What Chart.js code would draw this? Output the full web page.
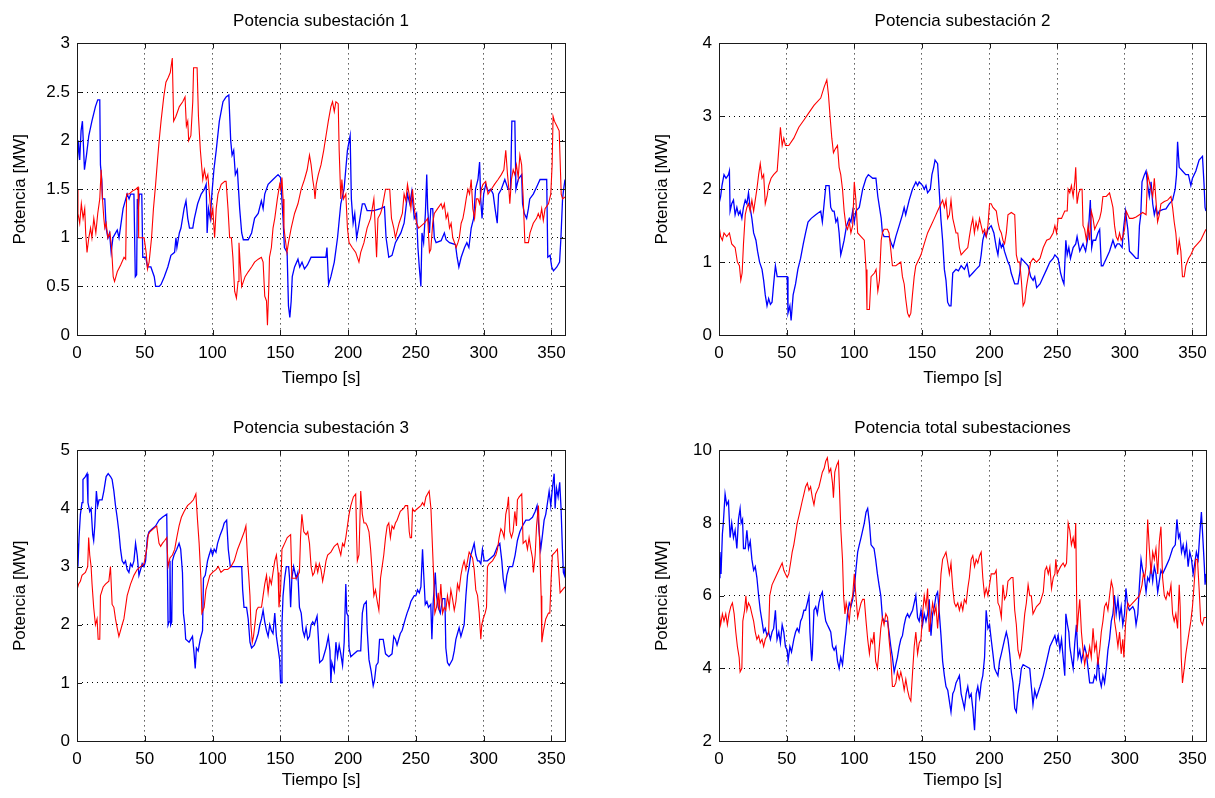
<!DOCTYPE html>
<html><head><meta charset="utf-8">
<script src="https://cdn.jsdelivr.net/npm/chart.js@4.4.1/dist/chart.umd.min.js"></script>
<style>
html,body{margin:0;padding:0;background:#fff;overflow:hidden;width:1215px;height:798px}
canvas{position:absolute}
</style></head><body>
<canvas id="c1"></canvas><canvas id="c2"></canvas><canvas id="c3"></canvas><canvas id="c4"></canvas>
<script>
const titles = ["Potencia subestación 1","Potencia subestación 2","Potencia subestación 3","Potencia total subestaciones"];
const xLabel = "Tiempo [s]";
const yLabel = "Potencia [MW]";
const xTicks = [0,50,100,150,200,250,300,350];
const yTicks1 = [0,0.5,1,1.5,2,2.5,3];
const yTicks2 = [0,1,2,3,4];
const yTicks3 = [0,1,2,3,4,5];
const yTicks4 = [2,4,6,8,10];

// [time (s), power (MW)]
const p1Blue = [[0,1.7],[1,2.0],[2,1.8],[3,2.1],[4,2.2],[5.5,1.7],[7,1.85],[8.7,2.05],[11,2.2],[13.6,2.35],[15.3,2.42],[16.8,2.42],[17.3,1.75],[18.3,1.6],[18.8,1.4],[20.5,1.4],[21.5,1.1],[22.8,1.0],[24,1.05],[25.2,0.85],[26.5,1.0],[28.5,1.05],[29.7,1.08],[31,1.0],[32,1.1],[34,1.3],[36,1.4],[37,1.45],[38.4,1.4],[39.6,1.45],[42,1.45],[43,0.6],[44,0.62],[44.5,1.4],[45.2,1.3],[46,1.45],[47.8,1.45],[48.5,0.8],[50.7,0.8],[52,0.7],[54.5,0.7],[57,0.6],[58,0.5],[60.6,0.5],[62,0.52],[64.4,0.6],[67,0.7],[69.3,0.82],[72,0.85],[73,1.0],[73.7,0.9],[75.5,1.05],[76.7,1.1],[79,1.3],[80.4,1.38],[81.7,1.2],[83,1.1],[85.4,1.1],[86.6,1.2],[89,1.35],[91.6,1.45],[94,1.5],[95.3,1.55],[96,1.05],[97,1.3],[98.3,1.2],[99.5,1.45],[101,1.7],[102.7,1.9],[105,2.2],[107.7,2.4],[110,2.45],[112,2.47],[113.4,2.0],[114.4,1.85],[115.6,1.9],[116.8,1.65],[118.3,1.7],[120,1.3],[121.5,1.05],[122.7,0.98],[126.3,0.98],[128.8,1.05],[131,1.2],[133.7,1.25],[136,1.38],[137.3,1.3],[138.5,1.45],[141,1.55],[144.6,1.6],[148.3,1.65],[150.2,1.62],[150.7,1.5],[152,1.2],[153,0.9],[155,0.85],[156,0.3],[157,0.18],[158,0.35],[158.8,0.6],[160.5,0.7],[163,0.78],[164.3,0.7],[166,0.75],[167.8,0.68],[170,0.72],[172.7,0.8],[177.6,0.8],[183.6,0.8],[184.4,0.9],[185.6,0.52],[187.3,0.6],[189.8,0.75],[192.2,1.0],[194.6,1.35],[197,1.5],[199.5,1.9],[201.5,2.05],[202.4,1.4],[203.7,1.15],[204.9,1.25],[206.3,1.0],[207.6,1.1],[209.3,1.25],[210.5,1.35],[212.2,1.35],[214,1.28],[219,1.28],[223.9,1.3],[226.8,1.32],[228,1.0],[230,0.8],[232.4,0.82],[234.9,0.95],[238.9,1.05],[241.3,1.15],[242.6,1.3],[243.8,1.45],[245.5,1.35],[247,1.48],[248.8,1.2],[250.5,1.25],[251.5,0.9],[252.5,0.7],[253.7,0.5],[254.5,1.05],[255.7,0.95],[257,1.25],[258,1.65],[258.7,1.3],[260,1.05],[261,1.3],[262.4,1.3],[263.6,1.0],[264.9,0.95],[268.6,0.97],[271,1.05],[272.3,0.98],[274.8,0.95],[279.2,0.93],[280.4,0.8],[281.7,0.7],[283.4,0.8],[285.9,0.9],[287.6,0.95],[289.1,0.9],[290.8,1.1],[292.6,1.2],[294,1.5],[295.8,1.6],[297,1.78],[297.8,1.4],[298.8,1.2],[300,1.45],[301.5,1.55],[303.2,1.48],[305.2,1.5],[307,1.45],[308.4,1.3],[310,1.15],[311,1.45],[313,1.5],[315.6,1.6],[318,1.5],[319.8,1.5],[320.8,2.2],[323,2.2],[323.8,1.5],[325.5,1.6],[328,1.65],[328.7,1.35],[330,1.25],[331.7,1.2],[333,1.3],[334,1.4],[336.6,1.45],[339,1.52],[341.6,1.6],[346.5,1.6],[347.3,0.8],[349,0.82],[350.2,0.7],[351.5,0.66],[354,0.7],[356,0.75],[357,1.0],[358.2,1.4],[359,1.5],[360,1.6]];
const p1Red = [[0,1.5],[0.7,1.25],[2,1.15],[3.2,1.35],[4.5,1.2],[5.7,1.3],[6.4,1.05],[7.4,0.85],[8.7,1.0],[10,1.1],[11,1.0],[12.4,1.2],[13.9,1.05],[15.3,1.25],[16.8,1.4],[17.8,1.7],[18.8,1.4],[19.8,1.2],[20.5,1.1],[21.5,1.15],[22.8,1.0],[24.3,1.05],[25.5,0.9],[26.7,0.6],[27.7,0.55],[29.7,0.65],[32.2,0.72],[34.7,0.8],[35.9,0.78],[36.6,1.45],[38.4,1.45],[40.8,1.48],[43.3,1.5],[45,1.52],[45.5,1.0],[47,1.0],[49.5,1.0],[51,0.85],[52,0.68],[53.2,0.75],[55,1.0],[56.4,1.3],[58,1.55],[59.4,1.8],[60.6,2.0],[62,2.2],[64,2.45],[65.6,2.6],[67.3,2.65],[68.8,2.7],[70.3,2.85],[71.3,2.2],[73,2.25],[75.5,2.35],[78,2.4],[79.7,2.45],[80.7,2.15],[81.7,2.2],[82.4,2.0],[84,2.05],[85.4,2.4],[86,2.75],[88.6,2.75],[89.6,2.25],[91,1.9],[92.8,1.6],[94,1.7],[95.3,1.6],[96.5,1.65],[98,1.4],[99,1.2],[100.2,1.3],[101.5,1.0],[102.7,1.3],[104,1.45],[106.4,1.55],[109,1.58],[110,1.58],[111.4,1.3],[112.6,1.0],[113.9,1.0],[115,0.8],[116.3,0.45],[117.6,0.38],[118.8,0.55],[119.5,0.95],[120.3,0.75],[121.5,0.5],[124,0.6],[126.3,0.65],[128.8,0.7],[131,0.75],[133.7,0.78],[136,0.8],[137.3,0.75],[138.5,0.4],[139.8,0.35],[140.5,0.1],[141.5,0.5],[142,0.8],[143.4,0.9],[144.6,1.1],[145.9,1.2],[147.8,1.4],[149.5,1.55],[150.2,1.5],[151.2,1.62],[152,1.4],[152.7,1.1],[153.7,0.98],[154.9,0.85],[156,0.95],[158,1.1],[160.5,1.25],[163,1.35],[165.4,1.5],[167.8,1.6],[169.8,1.7],[171.5,1.85],[172.7,1.75],[173.9,1.6],[175,1.5],[175.6,1.4],[176.5,1.55],[178,1.65],[180,1.75],[182,1.9],[183.7,2.05],[185.4,2.2],[187.3,2.35],[188.5,2.4],[189.8,2.3],[191,2.4],[192.7,2.38],[193.4,1.9],[194.6,1.4],[195.4,1.6],[196.6,1.4],[198.3,1.45],[199.5,1.1],[200.7,0.95],[203,0.9],[205.6,0.85],[208,0.75],[209.3,0.85],[211.7,0.95],[214,1.1],[216.6,1.2],[219,1.4],[220.2,1.05],[221,0.8],[222,1.2],[223.9,1.25],[225,1.3],[226.3,1.4],[227.6,1.5],[230.7,1.5],[232,1.2],[233.7,1.1],[234.9,1.0],[237.6,1.15],[240,1.25],[241.3,1.45],[242.6,1.38],[243.8,1.55],[245,1.45],[246.3,1.3],[247.5,1.5],[248.8,1.3],[250.5,1.15],[252,1.1],[253.7,1.12],[256.2,1.15],[258.7,1.2],[260,0.85],[261,0.88],[262.4,1.15],[263.6,1.25],[266,1.3],[268.6,1.35],[269.8,1.3],[271,1.35],[272.3,1.2],[273.5,1.25],[274.8,1.1],[276,1.15],[277.2,1.0],[278.5,0.95],[279.7,0.9],[281,0.95],[282,1.0],[283.4,1.15],[284.7,1.2],[286,1.3],[287.1,1.4],[288.4,1.5],[289.6,1.45],[290.8,1.6],[292,1.3],[293.3,1.2],[294.6,1.4],[295.8,1.4],[297,1.35],[298.3,1.5],[299.5,1.55],[301.5,1.58],[303.2,1.45],[305.7,1.5],[308,1.55],[310.6,1.6],[313,1.65],[314.9,1.7],[316.3,1.9],[317.6,1.65],[318.6,1.5],[319.3,1.35],[320.5,1.6],[321.8,1.7],[323,1.65],[324.2,1.75],[325.5,1.62],[326.7,1.85],[328,1.75],[329.2,1.4],[330.4,0.95],[333,0.95],[334.2,1.05],[336.6,1.15],[339,1.2],[340.3,1.25],[341.6,1.2],[342.8,1.3],[344,1.18],[345.3,1.3],[347.8,1.35],[349.5,1.45],[350.5,1.75],[351.2,2.25],[352.2,2.2],[354,2.15],[355.7,2.1],[356.4,1.8],[357.2,1.45],[358.2,1.4],[360,1.42]];

const p2Blue = [[0,1.8],[1.2,1.9],[2.2,2.05],[3.7,2.2],[5.2,2.15],[7,2.2],[7.7,2.25],[8.2,1.7],[9.4,1.8],[10.7,1.85],[11.9,1.65],[13.2,1.75],[14.4,1.65],[15.6,1.7],[16.9,1.6],[18.1,1.75],[19.4,1.85],[20.6,1.8],[21.8,1.95],[23,1.75],[24.3,1.6],[25.6,1.4],[27.3,1.3],[28.5,1.15],[30,1.0],[31.8,0.9],[33,0.75],[34.2,0.55],[35.5,0.4],[36.7,0.5],[38,0.42],[39.2,0.45],[40.4,0.7],[41.7,0.95],[43,0.8],[45.4,0.8],[49,0.8],[50.4,0.8],[51,0.3],[52.4,0.4],[53.3,0.2],[54.8,0.55],[56.6,0.7],[58.3,0.9],[60.3,1.05],[62.3,1.25],[64,1.4],[65.8,1.55],[68.2,1.6],[71.5,1.65],[75.2,1.7],[76.4,1.55],[77.7,1.8],[79,2.05],[81.4,2.05],[82.6,1.75],[83.9,1.7],[85.1,1.7],[86.4,1.55],[87.6,1.6],[88.8,1.4],[90,1.1],[91.3,1.2],[92.5,1.3],[94.3,1.5],[96.3,1.6],[97.5,1.55],[98.8,1.7],[100,1.55],[101.2,1.7],[103.7,1.75],[106.2,2.0],[108.7,2.15],[110.4,2.2],[113.6,2.15],[116,2.15],[117.4,1.9],[119.9,1.6],[120.8,1.4],[122,1.35],[125.7,1.35],[127.5,1.25],[128.7,1.2],[130.7,1.35],[133.2,1.5],[135.6,1.65],[136.9,1.75],[138,1.65],[140.6,1.85],[143,2.0],[145.5,2.1],[146.8,2.05],[148,2.1],[150.5,2.05],[151.7,2.0],[153,2.05],[154.2,1.95],[156.2,2.0],[157.4,2.2],[158.7,2.3],[159.7,2.4],[161.6,2.35],[162.9,1.95],[164,1.6],[165.3,1.3],[166.6,0.9],[167.8,0.75],[169,0.45],[170.3,0.4],[171.5,0.4],[172.8,0.85],[175.2,0.9],[177,0.88],[179,0.95],[181.4,0.9],[183.4,0.98],[185.1,0.8],[187.6,0.85],[190,0.9],[192.6,0.95],[193.8,1.1],[195,1.3],[196.3,1.4],[197.5,1.35],[198.8,1.45],[201.2,1.5],[203.2,1.4],[205,1.2],[206.2,1.1],[207.4,1.3],[208.7,1.2],[209.9,1.25],[211,1.15],[213.6,1.0],[214.9,0.95],[216,0.85],[218.6,0.7],[221,0.7],[222.3,0.85],[223.5,1.05],[226,1.0],[228.5,0.95],[230.4,0.8],[232.2,0.75],[233.4,0.8],[234.8,0.65],[237.3,0.7],[239.7,0.8],[242.2,0.9],[244.6,1.0],[247,1.05],[248.3,1.1],[250.7,1.05],[252.5,0.85],[254,0.75],[255,0.7],[256.4,1.3],[257.4,1.1],[258.6,1.2],[259.8,1.05],[261.8,1.2],[263.7,1.25],[264.7,1.35],[266.7,1.15],[269.1,1.25],[271,1.15],[272.8,1.35],[274.5,1.85],[275.5,1.2],[276.5,1.3],[278.4,1.3],[280.1,1.4],[281.4,1.45],[282.6,0.95],[283.8,0.95],[286.3,1.05],[288.7,1.15],[291.2,1.3],[292.9,1.2],[294.4,1.25],[296,1.25],[298,1.2],[299,1.45],[300.5,1.7],[302.2,1.45],[303.4,1.15],[305.9,1.1],[308.3,1.05],[309.8,1.05],[310.8,1.5],[311.8,1.65],[312.7,2.1],[314.5,2.2],[315.7,2.25],[316.9,2.05],[318.1,1.9],[319.4,2.1],[320.6,1.8],[321.8,1.65],[323,1.75],[324.2,1.65],[325.5,1.7],[327.9,1.72],[330.4,1.73],[332.8,1.8],[335.3,1.85],[337.2,2.0],[338.2,2.2],[339,2.65],[340.2,2.3],[342.6,2.25],[345,2.2],[347,2.2],[348.8,2.05],[350,2.15],[352.5,2.25],[354.9,2.4],[357.4,2.45],[358.6,2.05],[359.3,1.75],[360,1.7]];
const p2Red = [[0,1.5],[1.2,1.35],[2.5,1.3],[3.7,1.4],[5.7,1.35],[7.7,1.4],[9.4,1.25],[11.9,1.2],[13.6,1.0],[15.1,0.95],[16.1,0.75],[17.1,0.85],[18.1,1.25],[19.4,1.65],[20.6,1.75],[21.8,1.8],[23,1.7],[24.3,1.85],[25.6,1.7],[26.8,1.85],[28,2.0],[29.3,2.2],[30.5,2.35],[31.8,2.15],[33,2.2],[34.2,1.8],[35.5,1.9],[36.7,2.05],[38.5,2.15],[40.4,2.2],[43,2.25],[44.2,2.55],[45.4,2.85],[46.7,2.6],[47.9,2.7],[49.1,2.6],[51.6,2.6],[55.3,2.7],[59,2.85],[62.8,2.95],[66.5,3.05],[70.2,3.15],[75.2,3.25],[77.7,3.4],[79.7,3.5],[80.9,3.3],[82.1,3.0],[83.4,2.7],[84.6,2.5],[85.9,2.55],[87.6,2.6],[88.8,2.3],[90,2.2],[91.3,2.0],[92.5,1.7],[93.8,1.5],[95,1.45],[96.3,1.55],[97.5,1.4],[98.8,1.5],[100,2.1],[101.2,1.85],[102.5,1.4],[105,1.35],[107.4,1.3],[108.7,0.9],[109.4,0.35],[111.2,0.35],[112.4,0.8],[114.9,0.85],[116.1,0.9],[117.4,0.6],[118.6,0.75],[119.9,1.3],[120.8,1.4],[122,1.45],[124.5,1.45],[125.7,1.4],[128.2,0.95],[130.7,0.95],[134.4,1.0],[135.6,0.8],[136.9,0.7],[138,0.5],[139.4,0.3],[140.6,0.25],[141.8,0.3],[143,0.55],[144.3,0.8],[145.5,0.95],[146.8,1.0],[149.3,1.1],[151.7,1.25],[154.2,1.4],[156.7,1.5],[159.2,1.6],[161.6,1.7],[164.1,1.8],[165.3,1.85],[166.6,1.75],[167.8,1.85],[169,1.6],[170.3,1.65],[171.5,1.85],[172.8,1.6],[174,1.5],[175.2,1.4],[176.5,1.4],[177.7,1.2],[179,1.1],[181.4,1.15],[183.9,1.2],[185.1,1.35],[186.4,1.5],[187.6,1.6],[188.8,1.4],[190,1.55],[191.3,1.45],[192.6,1.6],[193.8,1.5],[195,1.4],[196.3,1.45],[197.5,1.35],[198.8,1.5],[200,1.8],[201.2,1.8],[202.5,1.75],[205,1.7],[206.2,1.55],[207.4,1.45],[208.7,1.4],[209.9,1.3],[211.1,1.25],[212.4,1.4],[213.6,1.65],[216.1,1.68],[218.6,1.65],[219.8,1.1],[221,1.0],[222.3,1.0],[223.5,0.75],[224.8,0.4],[226,0.45],[227.2,0.65],[228.5,0.8],[230.4,1.0],[232.2,1.05],[234.7,1.0],[237.3,1.05],[239.7,1.2],[242.2,1.3],[244.6,1.32],[247,1.4],[248.3,1.5],[249.5,1.4],[250.7,1.6],[253.2,1.6],[255.6,1.7],[257.4,1.7],[258.1,2.0],[259.3,1.95],[260.5,2.05],[261.8,1.9],[263,2.1],[263.7,2.3],[264.7,1.8],[265.9,1.95],[267.2,2.0],[268.4,2.0],[269.1,1.5],[270.3,1.45],[271.6,1.3],[272.8,1.5],[274,1.3],[275.2,1.7],[276.5,1.6],[277.7,1.45],[278.9,1.5],[281.4,1.6],[282.6,1.7],[283.8,1.9],[286.3,1.9],[288.7,1.95],[290,1.85],[291.2,1.75],[292.4,1.5],[293.6,1.35],[294.9,1.3],[296.1,1.4],[297.3,1.3],[298.5,1.35],[299.8,1.45],[301,1.7],[302.2,1.65],[303.4,1.6],[305.9,1.6],[308.3,1.62],[310.8,1.65],[313.2,1.68],[315.7,1.65],[316.9,2.2],[318.1,2.1],[319.4,2.0],[320.6,1.9],[321.8,2.15],[323,1.85],[324.2,1.55],[325.5,1.65],[326.7,1.8],[329.2,1.83],[331.6,1.85],[334.1,1.9],[335.3,1.75],[336.5,1.55],[337.7,1.4],[339,1.1],[340.2,1.3],[341.4,1.15],[342.6,0.8],[343.9,0.8],[345.1,0.95],[347.1,1.05],[348.8,1.1],[351.2,1.2],[353.7,1.25],[356.1,1.3],[358.6,1.4],[360,1.45]];

const p3Blue = [[0,3.4],[0.7,3.0],[1.5,3.5],[2.5,3.9],[3.7,4.1],[4.4,4.5],[6.2,4.55],[7.4,4.6],[8.1,4.1],[9.4,3.95],[10.4,4.0],[11.6,3.55],[12.3,3.45],[13.1,3.7],[14.3,4.3],[15.3,4.05],[16.3,4.15],[18.5,4.15],[19.8,4.3],[21.5,4.55],[23,4.6],[24.7,4.55],[25.9,4.5],[27.2,4.3],[28.4,4.05],[29.6,3.85],[30.9,3.6],[32.1,3.3],[33.3,3.1],[34.6,3.05],[35.8,3.1],[37,2.95],[38.3,2.9],[39.5,3.05],[40.7,3.0],[42,3.1],[43.2,3.4],[44.4,3.2],[45.7,2.85],[46.9,2.95],[48.1,3.05],[49.4,3.0],[50.6,3.1],[51.9,3.5],[53.1,3.6],[55.6,3.65],[58,3.7],[60.5,3.8],[63,3.85],[66.2,3.9],[66.7,3.0],[67.2,2.0],[67.9,2.05],[68.6,3.1],[69.1,2.0],[69.9,2.05],[70.4,3.1],[71.6,3.2],[73.6,3.3],[75.3,3.4],[76.5,3.3],[77.8,2.9],[78.5,2.2],[79.5,2.0],[80.2,1.75],[82.7,1.7],[85.2,1.8],[86.4,1.5],[87.2,1.25],[88.1,1.6],[89.4,1.55],[90.9,1.75],[92.6,1.9],[93.3,2.8],[94.6,2.85],[96.3,3.1],[97.5,3.2],[98.8,3.3],[100,3.2],[101.2,3.3],[102.5,3.25],[103.7,3.4],[105.7,3.55],[107.4,3.65],[108.6,3.75],[110.4,3.8],[111.6,3.3],[113.1,3.0],[116,3.0],[121.5,3.0],[122.2,2.6],[123.2,2.3],[125.1,2.3],[126.3,2.1],[127.6,1.7],[128.8,1.6],[130.8,1.65],[132.4,1.75],[133.7,1.85],[134.9,2.0],[136.1,2.1],[137.3,2.25],[138.5,2.05],[139.8,1.9],[141,1.8],[142.2,2.0],[143.4,1.9],[144.6,1.85],[145.9,2.2],[147.1,1.8],[148.3,1.6],[149.5,1.4],[150.2,1.0],[150.7,1.0],[151.2,2.0],[152,2.5],[153.2,2.8],[154.4,3.0],[156.1,3.0],[156.8,2.8],[157.6,2.3],[158.5,2.8],[159.8,3.0],[161.7,2.8],[162.9,2.9],[164.1,2.3],[165.4,2.2],[166.6,1.9],[167.8,1.8],[169,1.95],[170.2,1.75],[171.5,1.8],[172.7,2.0],[173.9,2.05],[175.1,2.0],[177.1,2.15],[178,1.8],[179,1.35],[181.2,1.4],[183.7,1.6],[185.4,1.8],[186.6,1.55],[187.3,1.0],[188,1.35],[189.8,1.2],[191,1.7],[192.2,1.45],[193.4,1.65],[194.6,1.5],[195.9,1.3],[197.1,1.7],[198.3,2.7],[199,2.2],[200,2.15],[200.7,1.6],[202,1.45],[204.4,1.5],[206.8,1.55],[209.3,1.55],[210.5,2.2],[211.7,2.35],[213.4,2.4],[214.1,1.9],[215.4,1.4],[217,1.2],[218.5,0.95],[219.5,1.05],[220.7,1.3],[222.1,1.35],[223.2,1.75],[225.9,1.75],[227.6,1.5],[230,1.45],[232.4,1.5],[233.7,1.8],[234.9,1.75],[236.1,1.65],[237.3,1.75],[238.5,1.85],[239.8,1.9],[241,2.0],[242.2,2.1],[243.5,2.2],[245.1,2.3],[246.3,2.4],[247.5,2.45],[248.8,2.5],[250,2.5],[251.2,2.6],[252.5,2.55],[253.7,2.65],[254.9,3.3],[255.7,2.9],[256.9,2.35],[258.1,2.4],[259.3,2.3],[261,2.35],[261.8,1.75],[262.8,2.4],[264.3,2.9],[265.2,2.5],[266.5,2.3],[268,2.2],[269.7,2.45],[271.4,2.45],[272.1,1.6],[273.3,1.35],[274.6,1.3],[277,1.4],[278.3,1.55],[279.5,1.75],[280.7,1.85],[281.9,1.95],[283.2,1.8],[284.4,1.9],[285.6,2.0],[286.9,2.5],[288.1,2.85],[289.3,3.0],[290.5,3.2],[291.8,3.3],[293,3.4],[294.2,3.2],[295.5,3.1],[296.7,3.1],[297.9,3.05],[299.1,3.3],[300.4,3.1],[302.8,3.1],[305.3,3.15],[307.7,3.2],[310.2,3.35],[311.9,3.4],[313.4,3.1],[314.4,2.8],[315.8,2.6],[317.1,2.85],[318.8,3.0],[321.3,3.0],[323.2,3.2],[324.9,3.45],[326.7,3.6],[328.6,3.7],[331.1,3.8],[333.5,3.8],[336,3.85],[338,3.95],[339.4,4.05],[340.9,3.6],[342.1,3.3],[343.4,3.55],[344.6,3.8],[345.8,3.9],[347.1,4.1],[348.3,4.3],[349.5,4.05],[350.7,4.35],[352,4.6],[352.7,4.0],[353.7,4.35],[354.9,4.2],[356.1,4.45],[357.1,4.0],[358.1,3.3],[358.8,2.9],[359.6,2.85],[360,3.0]];
const p3Red = [[0,2.6],[1.2,2.7],[2.5,2.75],[3.7,2.85],[6.2,2.9],[7.9,3.0],[8.6,3.5],[9.4,3.2],[10.4,3.0],[11.1,2.7],[12.3,2.3],[13.6,2.0],[14.8,2.1],[15.6,1.75],[16.8,1.75],[17.3,2.5],[19.3,2.65],[21,2.7],[23.5,2.75],[24.7,3.0],[25.9,2.35],[27.2,2.3],[28.4,2.1],[29.6,1.95],[30.9,1.8],[32.1,1.9],[33.3,2.0],[34.6,2.1],[35.8,2.3],[37,2.5],[39.5,2.7],[42,2.85],[44.4,2.95],[46.9,3.0],[49.4,3.05],[51.4,3.3],[52.6,3.55],[53.8,3.6],[56.3,3.65],[58.8,3.7],[60.5,3.4],[61.7,3.35],[63,3.4],[64.7,3.45],[66.2,3.5],[67.2,3.0],[68.6,3.15],[70.4,3.2],[72.1,3.3],[73.6,3.5],[75.3,3.7],[77,3.85],[79,3.95],[81.5,4.05],[84,4.1],[85.9,4.15],[87.7,4.25],[88.9,3.8],[90.1,3.4],[91.4,2.8],[92.1,2.2],[93.8,2.3],[95.1,2.6],[96.3,2.7],[98,2.85],[100,2.9],[102.5,2.95],[104.2,3.0],[106.2,2.9],[108.6,2.95],[111.1,2.95],[113.6,3.0],[116,3.1],[118.5,3.3],[121,3.45],[123.4,3.6],[124.6,3.7],[125.9,3.1],[126.8,2.8],[127.6,2.5],[128.3,2.0],[129.3,1.7],[130.2,1.8],[131.2,2.0],[132.4,2.25],[133.7,2.3],[136.1,2.3],[137.3,2.5],[138.5,2.7],[139.8,2.85],[141,2.55],[142.2,2.8],[143.4,2.7],[144.6,2.9],[145.9,3.1],[147.1,3.2],[148.3,2.9],[149,2.3],[150.2,2.6],[151.2,3.3],[153.2,3.4],[155.1,3.5],[157.6,3.55],[158.5,2.8],[161.7,2.8],[164.1,2.9],[164.9,3.5],[165.9,3.9],[167.3,3.6],[169,3.55],[170.2,3.6],[171.5,3.4],[172.7,3.0],[173.9,2.85],[175.1,2.9],[176.3,3.05],[177.6,2.9],[178.8,3.05],[180,2.95],[181.2,2.75],[182.4,2.9],[183.7,3.1],[184.9,3.2],[187.3,3.25],[189.8,3.35],[192.2,3.4],[193.4,3.3],[194.6,3.2],[195.9,3.4],[197.1,3.35],[198.3,3.5],[199.5,3.7],[200.7,3.9],[202,4.05],[203.9,4.2],[205.6,4.25],[206.3,3.5],[206.8,3.1],[208,3.2],[209.3,4.3],[210.5,3.9],[211.7,3.75],[213,3.75],[214.1,3.7],[215.4,3.6],[216.6,3.3],[217.8,2.9],[219,2.5],[220.2,2.6],[221.5,2.4],[222.7,2.25],[223.9,2.8],[225.1,3.0],[226.3,3.2],[227.6,3.5],[228.8,3.7],[230,3.75],[231.2,3.5],[232.4,3.7],[233.7,3.65],[234.9,3.75],[236.1,3.8],[238.5,3.95],[241,4.0],[242.2,4.05],[243.9,4.05],[245.1,3.6],[245.8,3.5],[246.8,3.5],[247.5,4.0],[248.8,3.95],[251.2,4.0],[253.7,4.05],[254.9,4.1],[256.1,4.05],[257.4,4.2],[258.6,4.25],[259.8,4.3],[261.1,4.0],[262.3,3.3],[263,2.9],[264,2.2],[265.2,2.3],[266.5,2.55],[267.2,2.25],[268.4,2.7],[269.7,2.2],[270.9,2.3],[272.1,2.25],[273.3,2.5],[274.6,2.3],[275.8,2.6],[277,2.45],[278.3,2.25],[279.5,2.4],[280.7,2.7],[281.9,2.6],[283.2,2.85],[284.4,3.0],[285.6,3.1],[286.9,2.95],[288.1,3.1],[289.3,3.25],[290.5,3.2],[291.8,3.15],[293,2.95],[294.2,2.6],[295.5,2.5],[296.7,2.2],[297.9,1.75],[298.6,2.0],[299.6,2.1],[301.1,2.2],[302.1,2.3],[302.8,3.0],[304,3.05],[306.5,3.1],[309,3.2],[310.2,3.3],[311.4,3.5],[312.7,3.65],[313.9,3.6],[315.1,3.5],[316.3,3.9],[317.6,4.05],[318.3,4.2],[319.3,3.6],[320.5,3.5],[321.7,3.6],[323,3.95],[324.2,3.7],[324.9,4.15],[326.2,4.2],[328.1,4.25],[329.1,3.4],[331.1,3.45],[332.3,3.3],[333.5,3.5],[334.8,3.3],[336,3.15],[336.7,2.9],[338,3.2],[339,3.7],[340.4,4.05],[341.4,3.3],[342.4,2.5],[342.9,1.7],[344.1,1.9],[345.8,2.1],[347.8,2.2],[348.8,2.2],[349.8,2.8],[350.7,3.2],[352.7,3.25],[354.4,3.3],[355.7,2.8],[356.4,2.55],[358.1,2.6],[360,2.65]];

const p4Blue = [[0,6.5],[0.7,7.2],[1.5,6.6],[2.5,7.7],[3.2,8.0],[4.5,8.8],[5.7,8.5],[7,8.6],[8.2,7.6],[9.4,8.0],[10.7,7.6],[11.9,7.8],[13.2,7.3],[14.4,8.1],[15.6,8.4],[16.4,8.0],[17.4,8.1],[18.1,7.3],[19.4,7.3],[20.6,7.8],[21.8,7.3],[23.1,7.5],[24.3,7.0],[25.6,6.7],[26.8,6.8],[28,6.5],[29.3,6.0],[30.5,5.6],[31.8,5.3],[33,5.0],[34.2,5.1],[35.5,4.9],[36.7,5.0],[38,4.8],[39.2,5.0],[40.4,5.1],[41.7,5.6],[42.9,4.8],[44.2,5.0],[45.4,4.7],[46.7,5.2],[47.9,5.0],[49.1,4.6],[50.4,4.5],[51.1,4.2],[52.4,4.6],[53.6,4.45],[55.3,4.8],[56.6,5.0],[57.8,5.1],[59.1,5.0],[60.3,5.3],[61.5,5.4],[62.8,5.6],[64,5.6],[65.3,5.8],[66.5,6.0],[67.2,5.0],[68.5,4.2],[69,4.4],[70.2,5.6],[71.5,5.7],[72.7,5.5],[73.9,5.8],[75.2,6.0],[76.4,6.1],[77.7,5.6],[78.9,5.3],[80.1,5.2],[81.4,5.1],[82.6,5.0],[83.9,4.6],[85.1,4.5],[86.4,4.6],[87.6,4.2],[88.8,4.0],[90,4.3],[91.3,4.1],[92.6,4.6],[93.8,5.0],[95,5.5],[96.3,5.8],[97.5,5.7],[98.8,5.9],[100,6.2],[101.2,6.7],[102.5,7.2],[103.7,7.4],[105,7.6],[106.2,7.8],[107.4,8.0],[108.7,8.3],[109.9,8.4],[111.2,8.0],[112.4,7.4],[114.6,7.3],[115.8,7.0],[117.1,6.6],[118.3,6.3],[119.6,6.0],[120.8,5.4],[122,5.3],[124.6,5.3],[125.7,5.0],[127,4.6],[128.2,4.3],[129.5,3.9],[130.7,4.1],[131.9,4.3],[133.2,4.6],[134.4,4.8],[135.6,4.9],[136.9,5.2],[138.1,5.4],[139.4,5.5],[140.6,5.4],[141.8,5.5],[143.1,5.6],[144.3,5.8],[145.5,6.0],[146.8,5.4],[148,5.3],[149.3,5.6],[150.5,5.2],[151.7,5.5],[153,5.3],[154.2,5.5],[155.4,5.9],[156.7,4.9],[157.9,5.5],[159.2,5.7],[160.4,6.0],[161.6,6.1],[162.9,5.5],[164.1,4.9],[165.3,4.2],[166.6,3.8],[167.8,3.5],[169.1,3.4],[170.3,3.1],[171.5,2.8],[172.8,3.3],[174,3.4],[175.2,3.6],[176.5,3.7],[177.7,3.8],[179,3.3],[180.2,3.1],[181.4,2.9],[182.7,3.3],[183.9,3.5],[185.1,3.2],[186.4,3.3],[187.6,2.9],[188.9,2.3],[190.1,3.3],[191.3,3.5],[192.6,3.2],[193.8,3.6],[195,3.8],[196.3,4.3],[197.5,5.6],[198.8,5.1],[200,5.2],[201.2,4.8],[202.5,4.4],[203.7,4.0],[204.9,3.9],[206.2,3.8],[207.4,4.2],[208.7,4.4],[209.9,4.6],[211.1,4.8],[212.4,5.0],[213.6,4.8],[214.9,4.4],[216.1,3.9],[217.3,3.6],[218.6,2.9],[219.8,2.8],[221,3.3],[222.3,3.6],[223.5,4.0],[224.8,4.1],[227.2,4.05],[229.7,4.0],[230.9,3.5],[232.1,3.0],[233.4,3.4],[234.7,3.2],[237.3,3.5],[239.7,3.8],[242.2,4.2],[244.6,4.6],[247.1,4.8],[248.3,4.9],[249.5,4.7],[250.7,4.9],[252,4.5],[253.2,4.8],[254.4,4.3],[255.6,3.8],[256.4,5.5],[257.6,5.2],[258.6,5.0],[259.3,4.6],[260.5,4.3],[261.8,4.0],[263,4.7],[264.2,5.2],[265.4,4.3],[266.7,4.5],[267.9,4.2],[269.1,4.4],[270.3,4.6],[271.6,4.4],[272.8,4.0],[274,3.6],[276.5,3.6],[277.7,3.8],[278.9,3.7],[280.1,4.3],[281.4,3.7],[282.6,3.5],[283.8,3.8],[285,3.6],[286.3,4.0],[287.5,4.5],[288.7,4.8],[290,5.3],[291.2,5.5],[292.4,6.0],[293.6,5.5],[294.9,5.9],[296.1,5.4],[297.3,5.7],[298.5,5.2],[299.8,5.5],[300.8,6.2],[302.2,5.7],[303.4,5.6],[305.9,5.7],[307.1,5.6],[308.3,5.2],[309.6,5.5],[310.8,6.3],[312,7.0],[313.2,6.7],[314.5,6.5],[315.7,6.1],[316.9,6.5],[318.1,6.4],[319.4,6.8],[320.6,6.4],[321.8,6.8],[323,6.6],[324.3,6.1],[325.5,6.4],[326.7,6.7],[327.9,6.6],[330.4,6.8],[332.8,7.0],[335.3,7.3],[337.3,7.4],[338.5,8.1],[339.7,7.6],[340.7,7.7],[341.9,7.2],[343.1,7.4],[344.4,7.1],[345.6,7.4],[346.8,6.8],[348,7.2],[349.3,7.0],[350.5,6.6],[351.7,6.9],[352.9,7.2],[354.2,7.0],[355.4,7.7],[356.6,8.3],[357.8,7.5],[358.8,6.8],[359.3,6.3],[360,6.6]];
const p4Red = [[0,5.6],[1.2,5.2],[2.5,5.5],[3.7,5.3],[5,5.5],[6.2,5.2],[7.4,5.5],[8.7,5.7],[9.9,5.8],[11.2,5.5],[12.4,5.0],[13.6,4.6],[14.9,4.3],[15.6,3.9],[16.9,4.0],[17.6,5.3],[18.9,5.6],[19.9,6.0],[20.6,5.6],[21.8,5.8],[23.1,5.7],[24.3,5.5],[25.6,5.3],[26.8,5.0],[28,4.8],[29.3,4.9],[30.5,4.7],[31.8,4.8],[33,4.6],[34.2,4.8],[35.5,4.9],[36.7,5.0],[37.5,6.0],[39.2,6.3],[41.7,6.5],[44.2,6.7],[46.7,6.9],[47.9,6.7],[49.1,6.6],[50.4,6.5],[51.6,6.6],[52.9,6.9],[54.1,7.2],[55.3,7.4],[56.6,7.7],[57.8,8.0],[59.1,8.2],[60.3,8.4],[61.5,8.6],[62.8,8.8],[64,9.0],[65.3,9.1],[66.5,8.9],[67.7,9.0],[69,8.7],[70.2,8.5],[71.5,8.8],[72.7,8.9],[73.9,9.0],[75.2,9.2],[76.4,9.4],[77.7,9.5],[78.9,9.7],[80.1,9.8],[81.4,9.4],[82.6,9.5],[83.9,9.1],[84.6,8.7],[85.6,9.4],[87.1,9.6],[88.3,9.7],[89.1,8.9],[90.1,7.8],[91.3,7.0],[92.1,6.0],[93.1,5.5],[94,5.8],[95,5.6],[96.3,5.3],[97.5,5.8],[98.8,6.0],[100,6.6],[101.2,6.0],[102.5,5.4],[103.7,5.6],[105,5.8],[106.2,5.9],[107.4,5.9],[108.7,5.3],[109.9,4.8],[111.2,4.4],[112.4,4.8],[113.6,4.7],[114.6,5.0],[115.8,4.2],[117.1,4.0],[118.3,4.5],[119.6,5.1],[120.8,5.4],[122,5.2],[123.3,5.5],[124.6,5.4],[125.7,4.8],[127,4.3],[128.2,3.5],[129.5,3.5],[130.7,3.6],[131.9,3.9],[133.2,3.7],[134.4,3.9],[135.6,3.7],[136.9,3.4],[138.1,3.7],[139.4,3.4],[140.6,3.2],[141.8,3.1],[143.1,3.9],[144.3,4.6],[145.5,5.0],[146.8,4.4],[148,4.7],[149.3,4.8],[150.5,5.5],[151.7,6.0],[153,5.7],[154.2,6.2],[155.4,5.0],[156.7,5.4],[157.9,5.8],[159.2,5.5],[160.4,5.7],[161.6,5.1],[162.9,5.8],[164.1,6.6],[165.3,7.0],[166.6,7.1],[167.8,7.2],[169.1,6.9],[170.3,6.6],[171.5,6.9],[172.8,6.2],[174,5.8],[175.2,5.7],[176.5,5.8],[177.7,5.6],[179,5.8],[180.2,5.6],[181.4,5.9],[182.7,5.8],[183.9,6.2],[185.1,6.5],[186.4,7.0],[187.6,7.1],[188.9,6.8],[190.1,7.0],[191.3,6.9],[192.6,7.1],[193.8,7.2],[195,6.5],[196.3,6.0],[197.5,6.2],[198.8,6.0],[200,6.3],[201.2,6.6],[203.7,6.6],[204.9,6.7],[206.2,5.8],[207.4,5.7],[208.7,5.4],[209.9,6.3],[211.1,5.9],[212.4,6.0],[213.6,6.4],[216.1,6.5],[217.3,6.5],[218.6,5.6],[219.8,5.2],[221,4.5],[222.3,4.3],[223.5,4.5],[224.8,5.0],[226,5.5],[227.2,5.8],[228.5,6.3],[229.7,6.0],[230.9,6.0],[232.1,5.5],[233.4,5.6],[234.7,5.7],[237.3,5.8],[239.7,6.1],[241,6.7],[242.2,6.8],[243.4,6.6],[244.6,6.8],[245.8,6.2],[247.1,6.5],[248.3,6.6],[249,7.0],[250,6.6],[251.2,6.7],[252.5,6.8],[254.4,6.9],[255.6,6.8],[256.9,6.9],[258.1,8.0],[259.3,7.8],[260.5,7.4],[261.8,7.6],[263,7.3],[263.7,8.0],[264.7,5.0],[265.7,5.5],[266.7,5.9],[267.9,5.0],[269.1,4.5],[270.3,4.1],[271.6,4.4],[272.8,4.3],[274,4.6],[275.2,4.3],[276.5,5.1],[277.7,4.5],[278.9,4.7],[280.1,4.1],[281.4,4.5],[282.6,5.0],[283.8,5.3],[285,5.7],[286.3,5.8],[287.5,5.6],[288.7,6.0],[290,6.4],[291.2,6.2],[292.4,5.3],[293.6,5.0],[294.9,4.6],[296.1,5.0],[297.3,4.4],[298.5,4.8],[299.3,4.3],[300.5,5.2],[301.5,5.6],[302.2,5.8],[303.4,5.7],[305.9,5.8],[308.3,5.9],[310.8,6.0],[312.7,6.3],[313.7,6.6],[314.7,6.5],[315.7,6.8],[316.9,8.1],[318.1,7.3],[319.4,6.6],[320.6,7.2],[321.8,7.0],[323,7.3],[324.3,6.6],[325.5,7.5],[326.7,7.9],[327.9,6.5],[329.2,6.0],[330.4,5.9],[331.6,6.1],[332.8,6.0],[334.1,6.3],[335.3,5.5],[336.5,5.3],[337.7,5.5],[339,5.1],[340.2,6.3],[340.9,5.7],[341.7,4.3],[342.6,3.6],[343.9,4.0],[345.1,4.4],[346.3,4.7],[347.5,5.0],[348.8,5.3],[350,5.7],[351.2,6.3],[352.5,7.0],[353.7,7.0],[354.9,6.2],[356.1,5.3],[357.4,5.2],[358.6,5.4],[360,5.4]];

const FONT = "'Liberation Sans', Arial, Helvetica, sans-serif";
const FS = 17;

const framePlugin = {
  id: 'frame',
  afterDatasetsDraw(chart) {
    const {ctx, chartArea: a, scales: {x, y}} = chart;
    ctx.save();
    ctx.strokeStyle = '#1a1a1a';
    ctx.lineWidth = 1;
    ctx.beginPath();
    const tl = 5;
    x.ticks.forEach(t => {
      const px = Math.round(x.getPixelForValue(t.value)) + 0.5;
      ctx.moveTo(px, a.bottom); ctx.lineTo(px, a.bottom - tl);
      ctx.moveTo(px, a.top); ctx.lineTo(px, a.top + tl);
    });
    y.ticks.forEach(t => {
      const py = Math.round(y.getPixelForValue(t.value)) + 0.5;
      ctx.moveTo(a.left, py); ctx.lineTo(a.left + tl, py);
      ctx.moveTo(a.right, py); ctx.lineTo(a.right - tl, py);
    });
    ctx.stroke();
    ctx.strokeRect(Math.round(a.left) + 0.5, Math.round(a.top) + 0.5, Math.round(a.right - a.left), Math.round(a.bottom - a.top));
    ctx.restore();
  }
};

function makeChart(id, box, area, title, yTicks, red, blue, xTitleGap) {
  const cv = document.getElementById(id);
  cv.width = box.W; cv.height = box.H;
  cv.style.left = box.L + 'px'; cv.style.top = box.T + 'px';
  cv.style.width = box.W + 'px'; cv.style.height = box.H + 'px';
  const lh = Math.round(FS * 1.2);
  const titleTop = (area.y0 - 22) - box.T - lh / 2;
  const titleH = area.y0 - box.T;
  const xAxisH = box.T + box.H - area.y1;
  const xTitleCenter = area.y1 + xTitleGap - box.T;
  const font = {family: FONT, size: FS, lineHeight: 1.2};
  return new Chart(cv, {
    type: 'line',
    data: {
      datasets: [
        {data: red.map(p => ({x: p[0], y: p[1]})), borderColor: '#ff0000', borderWidth: 1.1, pointRadius: 0, tension: 0, fill: false},
        {data: blue.map(p => ({x: p[0], y: p[1]})), borderColor: '#0000ff', borderWidth: 1.3, pointRadius: 0, tension: 0, fill: false}
      ]
    },
    options: {
      responsive: false, animation: false, devicePixelRatio: 1,
      layout: {padding: {left: 0, top: 0, bottom: 0, right: box.L + box.W - area.x1}},
      plugins: {
        legend: {display: false}, tooltip: {enabled: false},
        title: {display: true, text: title, color: '#000', fullSize: false,
          font: {family: FONT, size: FS, weight: 'normal', lineHeight: 1.2},
          padding: {top: titleTop, bottom: titleH - titleTop - lh}}
      },
      scales: {
        x: {type: 'linear', position: 'bottom', min: 0, max: 360,
          afterBuildTicks: a => { a.ticks = xTicks.map(v => ({value: v})); },
          afterFit: a => { a.height = xAxisH; },
          ticks: {color: '#000', font: font, padding: 8, maxRotation: 0, autoSkip: false, callback: v => String(v)},
          grid: {color: '#000', lineWidth: 1, drawTicks: false},
          border: {display: false, dash: [1, 4]},
          title: {display: true, text: xLabel, color: '#000', font: font, padding: {top: 0, bottom: box.H - xTitleCenter - lh / 2}}
        },
        y: {type: 'linear', position: 'left', min: yTicks[0], max: yTicks[yTicks.length - 1],
          afterBuildTicks: a => { a.ticks = yTicks.map(v => ({value: v})); },
          afterFit: a => { a.width = area.x0 - box.L; },
          ticks: {color: '#000', font: font, padding: 7, autoSkip: false, callback: v => String(v)},
          grid: {color: '#000', lineWidth: 1, drawTicks: false},
          border: {display: false, dash: [1, 4]},
          title: {display: true, text: yLabel, color: '#000', font: font, padding: {top: 20 - lh / 2, bottom: 0}}
        }
      }
    },
    plugins: [framePlugin]
  });
}

makeChart('c1', {L: 0, T: 0, W: 607, H: 400}, {x0: 77, x1: 565, y0: 43, y1: 335}, titles[0], yTicks1, p1Red, p1Blue, 44);
makeChart('c2', {L: 642, T: 0, W: 573, H: 400}, {x0: 719, x1: 1206, y0: 43, y1: 335}, titles[1], yTicks2, p2Red, p2Blue, 44);
makeChart('c3', {L: 0, T: 407, W: 607, H: 391}, {x0: 77, x1: 565, y0: 450, y1: 741}, titles[2], yTicks3, p3Red, p3Blue, 40);
makeChart('c4', {L: 642, T: 407, W: 573, H: 391}, {x0: 719, x1: 1206, y0: 450, y1: 741}, titles[3], yTicks4, p4Red, p4Blue, 40);
</script>
</body></html>
